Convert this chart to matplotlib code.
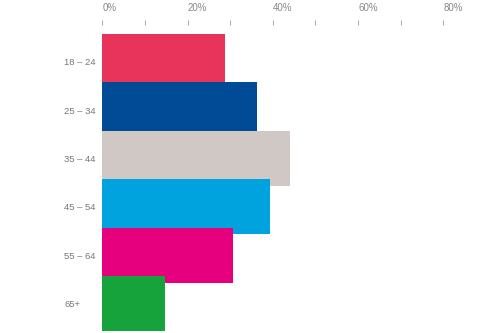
import matplotlib.pyplot as plt
from matplotlib.ticker import MultipleLocator, FuncFormatter

plt.rcParams['font.family'] = ['Liberation Sans', 'DejaVu Sans']

# age groups and share of respondents (%)
groups = ['18 – 24', '25 – 34', '35 – 44', '45 – 54', '55 – 64', '65+']
shares = [28.8, 36.4, 44.0, 39.4, 30.7, 14.6]
colors = ['#E8335A', '#004A96', '#CFC8C5', '#00A3DE', '#E6007E', '#17A33B']

fig = plt.figure(figsize=(5, 3.33), dpi=100)
ax = fig.add_axes([102.3 / 500, 1 - 331.3 / 333, 341 / 500, (331.3 - 34) / 333])

ax.barh(range(len(groups)), shares, height=1.14, color=colors, zorder=2)

ax.set_xlim(0, 80)
ax.set_ylim(5.57, -0.57)

for s in ax.spines.values():
    s.set_visible(False)
ax.spines['top'].set_position(('outward', 6.5))

ax.xaxis.set_ticks_position('top')
ax.xaxis.set_major_locator(MultipleLocator(20))
ax.xaxis.set_minor_locator(MultipleLocator(10))
ax.xaxis.set_major_formatter(FuncFormatter(lambda v, p: f'{v:.0f}%'))
ax.tick_params(axis='x', which='both', length=3.5, width=0.6, color='#999999',
               labelsize=7, labelcolor='#888888', pad=5)
for lab in ax.get_xticklabels():
    lab.set_horizontalalignment('left')

ax.set_yticks(range(len(groups)))
ax.set_yticklabels(groups)
ax.tick_params(axis='y', length=0, labelsize=6.8, labelcolor='#777777', pad=27.4)
for lab in ax.get_yticklabels():
    lab.set_horizontalalignment('left')

fig.savefig('out.png', dpi=100)
